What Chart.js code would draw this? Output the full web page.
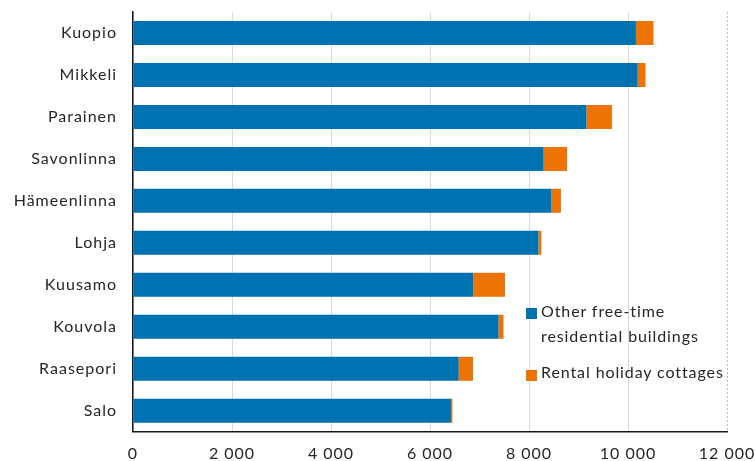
<!DOCTYPE html>
<html>
<head>
<meta charset="utf-8">
<script src="https://cdn.jsdelivr.net/npm/chart.js@4/dist/chart.umd.min.js"></script>
<style>
  html, body { margin: 0; padding: 0; background: #fff; }
  #wrap { position: relative; width: 755px; height: 461px; }
  canvas { display: block; }
  .legend { position: absolute; font-family: Lato, "Open Sans", sans-serif; font-size: 16px; letter-spacing: 0.9px; color: #262626; line-height: 25px; }
  .legend .sw { position: absolute; left: 0; width: 10.5px; height: 10.5px; }
  .legend .tx { position: absolute; left: 15px; white-space: nowrap; }
</style>
</head>
<body>
<div id="wrap">
  <canvas id="c" width="755" height="461"></canvas>
  <div class="legend" style="left:526px; top:298px;">
    <div class="sw" style="top:10px; background:#0071b1;"></div>
    <div class="tx" style="top:0;">Other free-time<br>residential buildings</div>
    <div class="sw" style="top:72px; background:#ec7404;"></div>
    <div class="tx" style="top:61px;">Rental holiday cottages</div>
  </div>
</div>
<script>
const categories = ["Kuopio", "Mikkeli", "Parainen", "Savonlinna", "Hämeenlinna", "Lohja", "Kuusamo", "Kouvola", "Raasepori", "Salo"];
const otherFreeTime = [10160, 10195, 9160, 8295, 8455, 8190, 6875, 7385, 6580, 6425];
const rentalCottages = [355, 160, 515, 475, 190, 60, 640, 100, 290, 27];
const xTicks = [0, 2000, 4000, 6000, 8000, 10000, 12000];
const xMax = 12000;

const fmt = v => String(v).replace(/\B(?=(\d{3})+(?!\d))/g, " ");
const textFont = { family: "Lato", size: 16 };

// slightly looser letter spacing for all canvas text
const spacing = {
  id: "spacing",
  beforeDraw(chart) { chart.ctx.letterSpacing = "1px"; }
};

// dotted line on the right edge of the plot (at the axis maximum)
const edgeLine = {
  id: "edgeLine",
  beforeDatasetsDraw(chart) {
    const { ctx, chartArea, scales } = chart;
    const x = Math.round(scales.x.getPixelForValue(xMax)) + 0.5;
    ctx.save();
    ctx.strokeStyle = "#bdbdbd";
    ctx.lineWidth = 1;
    ctx.setLineDash([2, 2]);
    ctx.beginPath();
    ctx.moveTo(x, chartArea.top);
    ctx.lineTo(x, chartArea.bottom);
    ctx.stroke();
    ctx.restore();
  }
};

new Chart(document.getElementById("c"), {
  type: "bar",
  data: {
    labels: categories,
    datasets: [
      { label: "Other free-time residential buildings", data: otherFreeTime, backgroundColor: "#0071b1", barPercentage: 0.572, categoryPercentage: 1 },
      { label: "Rental holiday cottages", data: rentalCottages, backgroundColor: "#ec7404", barPercentage: 0.572, categoryPercentage: 1 }
    ]
  },
  plugins: [spacing, edgeLine],
  options: {
    indexAxis: "y",
    responsive: false,
    animation: false,
    layout: { padding: { top: 12, right: 28, left: 1, bottom: 0 } },
    plugins: { legend: { display: false }, tooltip: { enabled: false } },
    scales: {
      x: {
        stacked: true,
        min: 0, max: xMax,
        afterBuildTicks: axis => { axis.ticks = xTicks.map(v => ({ value: v })); },
        afterFit: axis => { axis.height = 29.3; axis.paddingLeft = 0; axis.paddingRight = 0; },
        ticks: { callback: v => fmt(v), color: "#262626", padding: 13, maxRotation: 0, font: textFont },
        grid: { color: ctx => (ctx.tick && ctx.tick.value === xMax) ? "rgba(0,0,0,0)" : "#d9d9d9", lineWidth: 1, drawTicks: false },
        border: { display: true, color: "#1a1a1a", width: 1.5 }
      },
      y: {
        stacked: true,
        afterFit: axis => { axis.width = 132; axis.paddingTop = 0; axis.paddingBottom = 0; },
        ticks: { color: "#262626", padding: 16, font: textFont },
        grid: { display: false, drawTicks: false },
        border: { display: true, color: "#1a1a1a", width: 1.5 }
      }
    }
  }
});
</script>
</body>
</html>
